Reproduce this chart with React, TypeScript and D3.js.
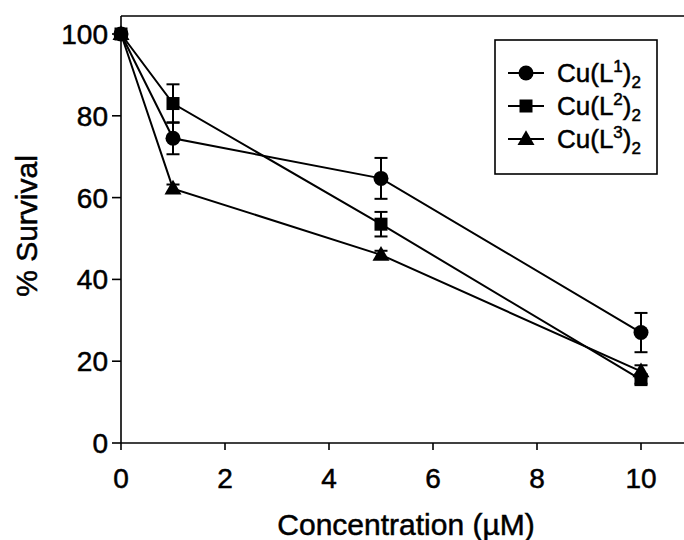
import React from "react";
import * as d3 from "d3";

const concentrations = [0, 1, 5, 10];
const seriesNames = ["1", "2", "3"];
const survivalL1 = [100, 74.5, 64.7, 27];
const errL1 = [0, 3.9, 5, 4.8];
const survivalL2 = [100, 83, 53.5, 15.5];
const errL2 = [0, 4.7, 3, 1];
const survivalL3 = [100, 62.2, 46, 17.5];
const errL3 = [0, 1, 1, 1.5];
const markerShapes = ["circle", "square", "triangle"];
const xTicks = [0, 2, 4, 6, 8, 10];
const yTicks = [0, 20, 40, 60, 80, 100];

const W = 684;
const H = 540;
const FONT = "'Liberation Sans', Arial, Helvetica, sans-serif";

const x = d3.scaleLinear().domain([0, 10]).range([121, 641]);
const y = d3.scaleLinear().domain([0, 100]).range([443, 34]);
const frameTop = 16;
const frameRight = 690;

const series = [
  { name: seriesNames[0], vals: survivalL1, errs: errL1, shape: markerShapes[0] },
  { name: seriesNames[1], vals: survivalL2, errs: errL2, shape: markerShapes[1] },
  { name: seriesNames[2], vals: survivalL3, errs: errL3, shape: markerShapes[2] },
];

const textStyle = { stroke: "#000", strokeWidth: 0.5 };

function Marker({ shape, cx, cy }: { shape: string; cx: number; cy: number }) {
  if (shape === "circle") return <circle cx={cx} cy={cy} r={7.5} fill="#000" />;
  if (shape === "square")
    return <rect x={cx - 6.5} y={cy - 6.5} width={13} height={13} fill="#000" />;
  const sym = d3.symbol().type(d3.symbolTriangle).size(125)();
  return <path d={sym || ""} transform={`translate(${cx},${cy + 1})`} fill="#000" />;
}

export default function App() {
  const line = d3
    .line<number>()
    .x((_, i) => x(concentrations[i]))
    .y((v) => y(v));

  return (
    <svg width={W} height={H} style={{ position: "absolute", left: 0, top: 0, background: "#fff" }}>
      <rect width={W} height={H} fill="#fff" />
      {/* frame */}
      <line x1={x(0)} x2={x(0)} y1={y(0)} y2={frameTop} stroke="#000" strokeWidth={1.6} />
      <line x1={x(0)} x2={frameRight} y1={frameTop} y2={frameTop} stroke="#000" strokeWidth={1.6} />
      <line x1={x(0)} x2={frameRight} y1={y(0)} y2={y(0)} stroke="#000" strokeWidth={1.6} />
      {/* y ticks */}
      {yTicks.map((t) => (
        <g key={"y" + t}>
          <line x1={x(0) - 9} x2={x(0)} y1={y(t)} y2={y(t)} stroke="#000" strokeWidth={1.6} />
          <text x={x(0) - 13} y={y(t) + 10} textAnchor="end" fontFamily={FONT} fontSize={28} style={textStyle}>
            {t}
          </text>
        </g>
      ))}
      {/* x ticks */}
      {xTicks.map((t) => (
        <g key={"x" + t}>
          <line x1={x(t)} x2={x(t)} y1={y(0)} y2={y(0) + 7} stroke="#000" strokeWidth={1.6} />
          <text x={x(t)} y={488} textAnchor="middle" fontFamily={FONT} fontSize={28} style={textStyle}>
            {t}
          </text>
        </g>
      ))}
      <text x={406} y={535} textAnchor="middle" fontFamily={FONT} fontSize={30} style={textStyle}>
        Concentration (µM)
      </text>
      <text
        transform={`translate(37,226) rotate(-90)`}
        textAnchor="middle"
        fontFamily={FONT}
        fontSize={30}
        style={textStyle}
      >
        % Survival
      </text>
      {/* series */}
      {series.map((s) => (
        <g key={s.name}>
          <path d={line(s.vals) || ""} fill="none" stroke="#000" strokeWidth={2} />
          {s.vals.map((v, i) =>
            s.errs[i] > 0 ? (
              <g key={i}>
                <line x1={x(concentrations[i])} x2={x(concentrations[i])} y1={y(v - s.errs[i])} y2={y(v + s.errs[i])} stroke="#000" strokeWidth={2} />
                <line x1={x(concentrations[i]) - 6.5} x2={x(concentrations[i]) + 6.5} y1={y(v + s.errs[i])} y2={y(v + s.errs[i])} stroke="#000" strokeWidth={2} />
                <line x1={x(concentrations[i]) - 6.5} x2={x(concentrations[i]) + 6.5} y1={y(v - s.errs[i])} y2={y(v - s.errs[i])} stroke="#000" strokeWidth={2} />
              </g>
            ) : null
          )}
          {s.vals.map((v, i) => (
            <Marker key={"m" + i} shape={s.shape} cx={x(concentrations[i])} cy={y(v)} />
          ))}
        </g>
      ))}
      {/* legend */}
      <rect x={495} y={40} width={162} height={134} fill="#fff" stroke="#000" strokeWidth={1.6} />
      {series.map((s, i) => {
        const ly = 73 + i * 33;
        return (
          <g key={"l" + s.name}>
            <line x1={508} x2={544} y1={ly} y2={ly} stroke="#000" strokeWidth={2} />
            <Marker shape={s.shape} cx={526} cy={ly} />
            <text x={557} y={ly + 9} fontFamily={FONT} fontSize={26} style={textStyle}>
              Cu(L
              <tspan fontSize={17} dy={-10}>{s.name}</tspan>
              <tspan dy={10}>)</tspan>
              <tspan fontSize={17} dy={6}>2</tspan>
            </text>
          </g>
        );
      })}
    </svg>
  );
}
